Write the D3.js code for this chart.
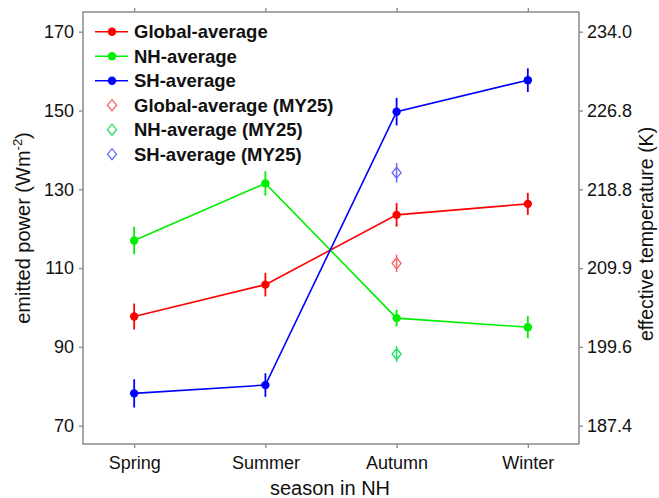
<!DOCTYPE html>
<html><head><meta charset="utf-8">
<script src="https://cdn.jsdelivr.net/npm/d3@7"></script>
<style>
html,body{margin:0;padding:0;background:#fff;}
svg text{font-family:"Liberation Sans",Arial,Helvetica,sans-serif;}
</style></head>
<body>
<svg id="chart" width="659" height="498"></svg>
<script>
const seasons = ["Spring","Summer","Autumn","Winter"];
const globalAvg = [97.7, 105.8, 123.5, 126.3];
const globalErr = [3.3, 3.0, 3.0, 2.8];
const nhAvg = [117.0, 131.5, 97.3, 95.0];
const nhErr = [3.5, 3.1, 2.1, 2.8];
const shAvg = [78.2, 80.3, 149.7, 157.7];
const shErr = [3.6, 3.0, 3.5, 3.0];
const my25Season = "Autumn";
const my25Values = [111.2, 88.2, 134.2];   // Global, NH, SH
const my25Err = [2.2, 2.0, 2.5];
const powerTicks = [70, 90, 110, 130, 150, 170];
const tempTickLabels = ["187.4","199.6","209.9","218.8","226.8","234.0"];
const seriesNames = ["Global-average","NH-average","SH-average"];
const my25Names = ["Global-average (MY25)","NH-average (MY25)","SH-average (MY25)"];
const colors = ["#ff0000","#00ee00","#0000ff"];
const my25Colors = ["#ff6060","#20e060","#6a6aff"];

const svg = d3.select("#chart");
const L = 83, R = 579, T = 12, B = 444;
const x = d3.scalePoint().domain(seasons).range([L, R]).padding(0.39);
const y = d3.scaleLinear().domain([65.35, 175]).range([B, T]);
const axisColor = "#8a8a8a";

function styleAxis(g){
  g.select(".domain").remove();
  g.selectAll(".tick line").attr("stroke", axisColor).attr("stroke-width", 1.3);
  g.selectAll(".tick text").attr("font-size", 18).attr("fill", "#111");
}
// axes
svg.append("g").attr("transform", `translate(${L},0)`)
  .call(d3.axisLeft(y).tickValues(powerTicks).tickSize(4).tickPadding(5).tickFormat(d3.format("d")))
  .call(styleAxis);
svg.append("g").attr("transform", `translate(${R},0)`)
  .call(d3.axisRight(y).tickValues(powerTicks).tickSize(4).tickPadding(4).tickFormat((d,i)=>tempTickLabels[i]))
  .call(styleAxis);
svg.append("g").attr("transform", `translate(0,${B})`)
  .call(d3.axisBottom(x).tickSize(4).tickPadding(8))
  .call(styleAxis);
svg.append("g").attr("transform", `translate(0,${T})`)
  .call(d3.axisTop(x).tickSize(4).tickFormat(""))
  .call(styleAxis);
svg.append("rect").attr("x", L).attr("y", T).attr("width", R-L).attr("height", B-T)
  .attr("fill","none").attr("stroke", axisColor).attr("stroke-width", 1.5);

// titles
svg.append("text").attr("x", 330).attr("y", 495).attr("text-anchor","middle")
  .attr("font-size", 20).attr("fill","#111").text("season in NH");
const lt = svg.append("text").attr("transform","translate(30,228) rotate(-90)")
  .attr("text-anchor","middle").attr("font-size", 20).attr("fill","#111");
lt.append("tspan").text("emitted power (Wm");
lt.append("tspan").attr("font-size", 13).attr("dy", -8).text("-2");
lt.append("tspan").attr("dy", 8).text(")");
svg.append("text").attr("transform","translate(653,234) rotate(-90)")
  .attr("text-anchor","middle").attr("font-size", 19.5).attr("fill","#111").text("effective temperature (K)");

// data series
const series = [
  {v: globalAvg, e: globalErr},
  {v: nhAvg, e: nhErr},
  {v: shAvg, e: shErr}
];
const line = d3.line().x((d,i)=>x(seasons[i])).y(d=>y(d));
series.forEach((s, k) => {
  const g = svg.append("g");
  g.append("path").attr("d", line(s.v)).attr("fill","none").attr("stroke", colors[k]).attr("stroke-width", 1.6);
  s.v.forEach((v, i) => {
    g.append("line").attr("x1", x(seasons[i])).attr("x2", x(seasons[i]))
      .attr("y1", y(v - s.e[i])).attr("y2", y(v + s.e[i]))
      .attr("stroke", colors[k]).attr("stroke-width", 1.8);
    g.append("circle").attr("cx", x(seasons[i])).attr("cy", y(v)).attr("r", 4.2).attr("fill", colors[k]);
  });
});
function diamond(g, cx, cy, c){
  g.append("path").attr("d", `M${cx},${cy-5.5}L${cx+4.5},${cy}L${cx},${cy+5.5}L${cx-4.5},${cy}Z`)
    .attr("fill","none").attr("stroke", c).attr("stroke-width", 1.3);
}
my25Values.forEach((v, k) => {
  const g = svg.append("g");
  const cx = x(my25Season);
  g.append("line").attr("x1", cx).attr("x2", cx).attr("y1", y(v - my25Err[k])).attr("y2", y(v + my25Err[k]))
    .attr("stroke", my25Colors[k]).attr("stroke-width", 1.5);
  diamond(g, cx, y(v), my25Colors[k]);
});

// legend
const legY0 = 31.7, legStep = 24.5;
seriesNames.forEach((n, k) => {
  const yy = legY0 + k*legStep;
  svg.append("line").attr("x1", 95).attr("x2", 128).attr("y1", yy).attr("y2", yy)
    .attr("stroke", colors[k]).attr("stroke-width", 1.6);
  svg.append("circle").attr("cx", 112).attr("cy", yy).attr("r", 4.2).attr("fill", colors[k]);
  svg.append("text").attr("x", 134).attr("y", yy).attr("dy","0.35em").attr("font-size", 18.5)
    .attr("font-weight","bold").attr("fill","#111").text(n);
});
my25Names.forEach((n, k) => {
  const yy = legY0 + (k+3)*legStep;
  diamond(svg, 112, yy, my25Colors[k]);
  svg.append("text").attr("x", 134).attr("y", yy).attr("dy","0.35em").attr("font-size", 18.5)
    .attr("font-weight","bold").attr("fill","#111").text(n);
});
</script>
</body></html>
